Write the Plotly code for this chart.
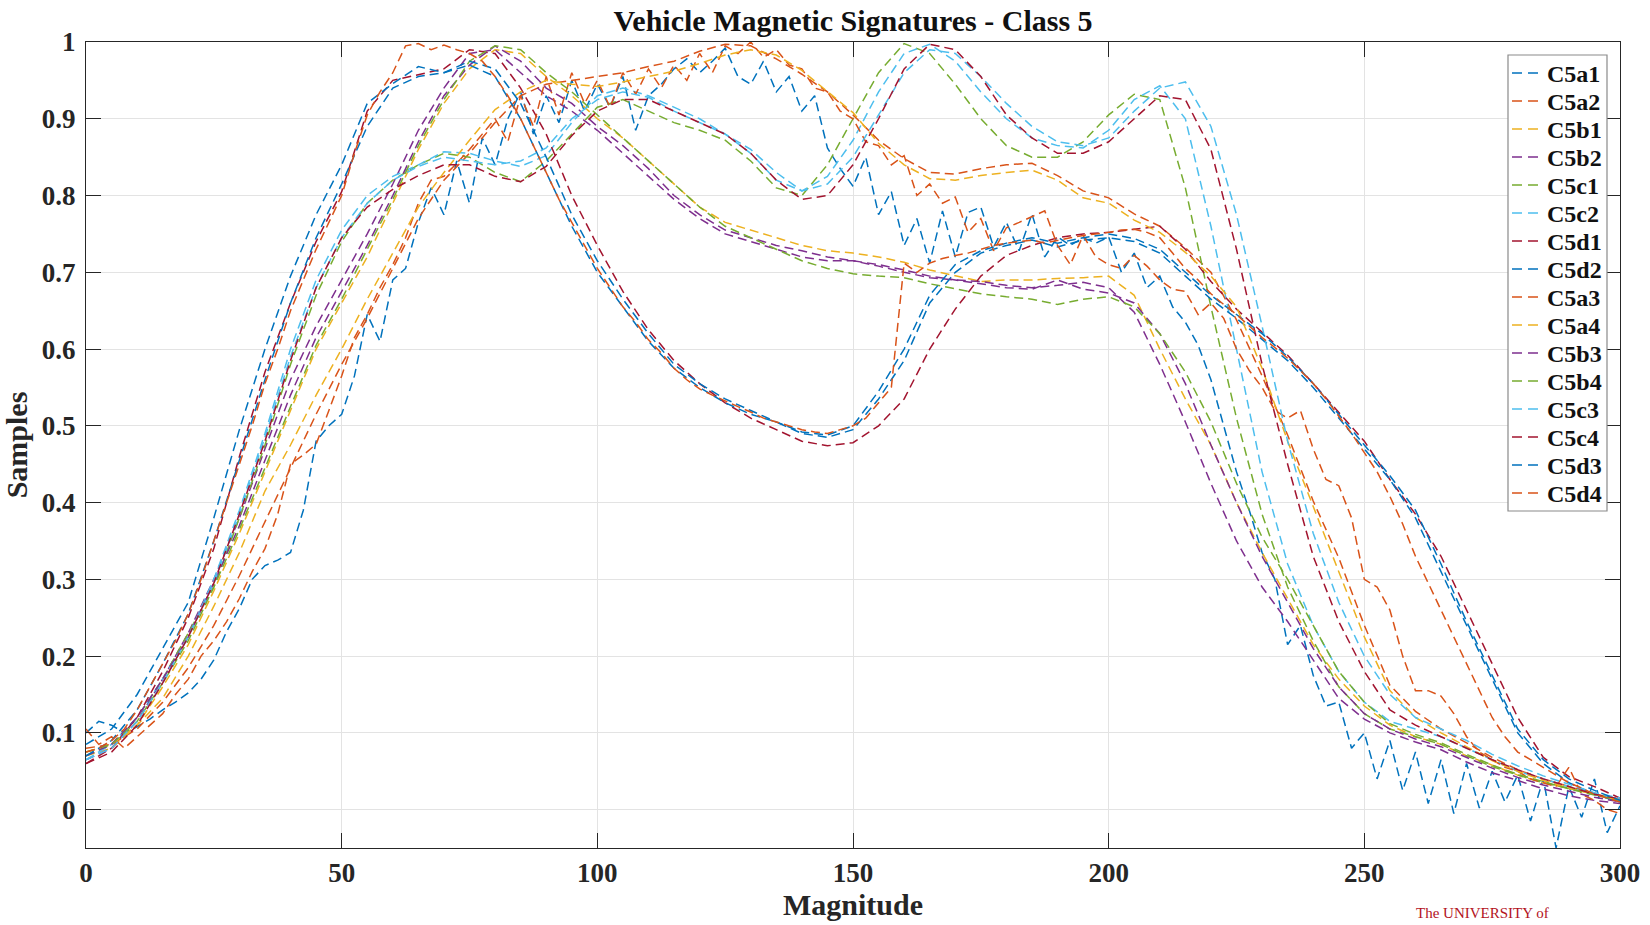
import plotly.graph_objects as go

# ---------------------------------------------------------------------------
# Sample positions
# ---------------------------------------------------------------------------
x_step5 = list(range(0, 301, 5))           # 61 samples
x_step2_5 = [i * 2.5 for i in range(121)]  # 121 samples (noisier records)

# ---------------------------------------------------------------------------
# Normalised magnetic signatures, class 5
# ---------------------------------------------------------------------------
c5a1 = [0.100, 0.115, 0.110, 0.100, 0.108, 0.118, 0.130, 0.140, 0.152, 0.170,
        0.195, 0.232, 0.262, 0.300, 0.318, 0.325, 0.335, 0.390, 0.480, 0.500,
        0.515, 0.565, 0.645, 0.610, 0.690, 0.705, 0.765, 0.810, 0.775, 0.845,
        0.790, 0.875, 0.840, 0.900, 0.935, 0.880, 0.930, 0.895, 0.950, 0.910,
        0.945, 0.915, 0.955, 0.885, 0.930, 0.945, 0.965, 0.978, 0.960, 0.975,
        0.992, 0.955, 0.945, 0.975, 0.935, 0.955, 0.910, 0.930, 0.862, 0.835,
        0.812, 0.850, 0.775, 0.805, 0.735, 0.770, 0.712, 0.780, 0.720, 0.778,
        0.785, 0.733, 0.765, 0.728, 0.776, 0.720, 0.746, 0.735, 0.745, 0.738,
        0.746, 0.700, 0.725, 0.680, 0.695, 0.655, 0.635, 0.605, 0.560, 0.500,
        0.440, 0.390, 0.335, 0.300, 0.215, 0.240, 0.175, 0.135, 0.140, 0.080,
        0.100, 0.040, 0.090, 0.025, 0.075, 0.008, 0.065, -0.005, 0.060, 0.002,
        0.050, 0.010, 0.045, -0.015, 0.040, -0.050, 0.030, -0.010, 0.040, -0.030,
        0.005]

c5a2 = [0.080, 0.085, 0.105, 0.140, 0.185, 0.240, 0.305, 0.375, 0.445, 0.515,
        0.580, 0.640, 0.705, 0.770, 0.820, 0.855, 0.895, 0.930, 0.945, 0.950,
        0.955, 0.960, 0.968, 0.975, 0.988, 0.997, 0.995, 0.978, 0.958, 0.935,
        0.905, 0.872, 0.848, 0.830, 0.828, 0.835, 0.840, 0.842, 0.826, 0.806,
        0.797, 0.776, 0.760, 0.732, 0.700, 0.638, 0.565, 0.488, 0.402, 0.328,
        0.240, 0.162, 0.128, 0.105, 0.087, 0.068, 0.052, 0.040, 0.030, 0.021,
        0.013]

c5a3 = [0.105, 0.085, 0.095, 0.080, 0.095, 0.110, 0.125, 0.150, 0.170, 0.200,
        0.220, 0.245, 0.275, 0.310, 0.340, 0.385, 0.450, 0.462, 0.476, 0.520,
        0.565, 0.615, 0.645, 0.680, 0.710, 0.745, 0.790, 0.820, 0.825, 0.842,
        0.860, 0.880, 0.900, 0.870, 0.930, 0.890, 0.955, 0.905, 0.960, 0.920,
        0.950, 0.915, 0.960, 0.932, 0.965, 0.940, 0.970, 0.950, 0.985, 0.960,
        0.995, 0.985, 1.000, 0.980, 0.990, 0.970, 0.965, 0.940, 0.935, 0.910,
        0.900, 0.870, 0.865, 0.840, 0.852, 0.800, 0.815, 0.790, 0.798, 0.752,
        0.770, 0.728, 0.758, 0.765, 0.772, 0.780, 0.735, 0.710, 0.748, 0.720,
        0.710, 0.705, 0.722, 0.708, 0.690, 0.678, 0.675, 0.645, 0.660, 0.640,
        0.600, 0.572, 0.550, 0.520, 0.510, 0.520, 0.470, 0.430, 0.422, 0.380,
        0.300, 0.290, 0.260, 0.200, 0.155, 0.155, 0.148, 0.125, 0.095, 0.075,
        0.065, 0.055, 0.050, 0.040, 0.035, 0.030, 0.055, 0.020, 0.012, 0.000,
        -0.005]

c5a4 = [0.075, 0.085, 0.110, 0.145, 0.200, 0.265, 0.335, 0.415, 0.475, 0.540,
        0.600, 0.665, 0.725, 0.785, 0.830, 0.872, 0.912, 0.935, 0.950, 0.945,
        0.942, 0.948, 0.955, 0.962, 0.972, 0.983, 0.990, 0.983, 0.963, 0.935,
        0.908, 0.868, 0.840, 0.822, 0.820, 0.826, 0.830, 0.833, 0.820, 0.797,
        0.790, 0.768, 0.752, 0.726, 0.695, 0.655, 0.575, 0.480, 0.395, 0.310,
        0.225, 0.155, 0.120, 0.100, 0.082, 0.064, 0.050, 0.038, 0.028, 0.020,
        0.012]

c5b1 = [0.070, 0.080, 0.110, 0.160, 0.215, 0.285, 0.360, 0.440, 0.520, 0.600,
        0.660, 0.720, 0.790, 0.860, 0.920, 0.965, 0.990, 0.985, 0.955, 0.930,
        0.900, 0.875, 0.845, 0.815, 0.785, 0.765, 0.755, 0.745, 0.735, 0.728,
        0.725, 0.720, 0.713, 0.703, 0.695, 0.688, 0.690, 0.690, 0.692, 0.693,
        0.695, 0.670, 0.600, 0.535, 0.475, 0.400, 0.335, 0.275, 0.215, 0.170,
        0.135, 0.110, 0.095, 0.085, 0.070, 0.058, 0.045, 0.035, 0.027, 0.020,
        0.013]

c5b2 = [0.065, 0.080, 0.115, 0.170, 0.230, 0.300, 0.380, 0.470, 0.560, 0.630,
        0.690, 0.750, 0.815, 0.885, 0.940, 0.985, 0.990, 0.960, 0.930, 0.910,
        0.885, 0.855, 0.825, 0.795, 0.770, 0.750, 0.740, 0.730, 0.720, 0.715,
        0.715, 0.708, 0.700, 0.693, 0.690, 0.688, 0.683, 0.680, 0.683, 0.687,
        0.680, 0.648, 0.580, 0.505, 0.425, 0.350, 0.290, 0.245, 0.195, 0.145,
        0.118, 0.100, 0.088, 0.078, 0.062, 0.048, 0.038, 0.027, 0.018, 0.012,
        0.008]

c5b3 = [0.070, 0.085, 0.120, 0.170, 0.225, 0.295, 0.370, 0.455, 0.540, 0.615,
        0.675, 0.735, 0.800, 0.870, 0.930, 0.970, 0.995, 0.975, 0.940, 0.920,
        0.890, 0.865, 0.835, 0.800, 0.775, 0.755, 0.745, 0.735, 0.728, 0.720,
        0.715, 0.710, 0.703, 0.695, 0.690, 0.685, 0.680, 0.678, 0.690, 0.678,
        0.673, 0.660, 0.620, 0.555, 0.475, 0.400, 0.330, 0.270, 0.210, 0.160,
        0.125, 0.105, 0.092, 0.082, 0.068, 0.054, 0.042, 0.032, 0.024, 0.016,
        0.010]

c5b4 = [0.075, 0.085, 0.115, 0.165, 0.220, 0.290, 0.365, 0.445, 0.525, 0.605,
        0.665, 0.730, 0.795, 0.865, 0.925, 0.975, 0.995, 0.990, 0.960, 0.935,
        0.905, 0.875, 0.845, 0.815, 0.785, 0.760, 0.745, 0.730, 0.715, 0.705,
        0.698, 0.695, 0.693, 0.685, 0.678, 0.672, 0.668, 0.665, 0.658, 0.665,
        0.668, 0.655, 0.620, 0.570, 0.505, 0.425, 0.355, 0.300, 0.240, 0.180,
        0.140, 0.112, 0.098, 0.087, 0.072, 0.058, 0.046, 0.036, 0.027, 0.019,
        0.012]

c5c1 = [0.070, 0.085, 0.120, 0.170, 0.230, 0.290, 0.380, 0.475, 0.580, 0.670,
        0.740, 0.790, 0.820, 0.840, 0.855, 0.850, 0.830, 0.818, 0.845, 0.880,
        0.915, 0.925, 0.910, 0.895, 0.885, 0.872, 0.845, 0.810, 0.800, 0.840,
        0.900, 0.960, 0.998, 0.985, 0.945, 0.900, 0.865, 0.850, 0.850, 0.870,
        0.905, 0.932, 0.925, 0.810, 0.655, 0.510, 0.385, 0.290, 0.220, 0.160,
        0.125, 0.105, 0.095, 0.085, 0.070, 0.056, 0.045, 0.035, 0.028, 0.020,
        0.012]

c5c2 = [0.065, 0.085, 0.120, 0.170, 0.225, 0.300, 0.390, 0.490, 0.600, 0.690,
        0.755, 0.800, 0.825, 0.840, 0.857, 0.855, 0.845, 0.838, 0.852, 0.895,
        0.930, 0.940, 0.930, 0.915, 0.900, 0.880, 0.855, 0.820, 0.806, 0.825,
        0.872, 0.935, 0.985, 0.997, 0.975, 0.935, 0.900, 0.875, 0.865, 0.862,
        0.885, 0.925, 0.943, 0.900, 0.760, 0.600, 0.440, 0.320, 0.240, 0.180,
        0.140, 0.115, 0.105, 0.095, 0.080, 0.065, 0.050, 0.040, 0.030, 0.020,
        0.013]

c5c3 = [0.065, 0.080, 0.115, 0.165, 0.225, 0.295, 0.385, 0.485, 0.590, 0.680,
        0.745, 0.790, 0.820, 0.838, 0.850, 0.845, 0.840, 0.845, 0.862, 0.900,
        0.925, 0.935, 0.928, 0.910, 0.895, 0.880, 0.860, 0.830, 0.806, 0.815,
        0.850, 0.905, 0.960, 0.990, 0.985, 0.955, 0.920, 0.890, 0.870, 0.865,
        0.875, 0.910, 0.940, 0.948, 0.890, 0.775, 0.630, 0.480, 0.360, 0.270,
        0.200, 0.150, 0.120, 0.105, 0.090, 0.072, 0.057, 0.044, 0.033, 0.022,
        0.015]

c5c4 = [0.060, 0.075, 0.110, 0.165, 0.225, 0.295, 0.385, 0.480, 0.585, 0.680,
        0.745, 0.785, 0.808, 0.826, 0.840, 0.840, 0.825, 0.818, 0.838, 0.878,
        0.910, 0.925, 0.925, 0.910, 0.895, 0.880, 0.855, 0.820, 0.795, 0.800,
        0.840, 0.900, 0.965, 0.997, 0.990, 0.955, 0.905, 0.875, 0.855, 0.855,
        0.870, 0.900, 0.930, 0.925, 0.860, 0.730, 0.580, 0.450, 0.330, 0.245,
        0.180, 0.130, 0.110, 0.095, 0.080, 0.065, 0.052, 0.040, 0.030, 0.020,
        0.014]

c5d1 = [0.060, 0.080, 0.120, 0.180, 0.250, 0.340, 0.460, 0.570, 0.660, 0.740,
        0.805, 0.910, 0.950, 0.958, 0.965, 0.990, 0.985, 0.940, 0.880, 0.800,
        0.735, 0.675, 0.625, 0.585, 0.555, 0.530, 0.510, 0.495, 0.480, 0.474,
        0.478, 0.500, 0.535, 0.600, 0.652, 0.695, 0.722, 0.735, 0.745, 0.750,
        0.752, 0.756, 0.760, 0.730, 0.688, 0.652, 0.622, 0.592, 0.555, 0.518,
        0.480, 0.430, 0.385, 0.330, 0.260, 0.190, 0.120, 0.068, 0.043, 0.030,
        0.015]

c5d2 = [0.085, 0.105, 0.150, 0.210, 0.270, 0.380, 0.495, 0.600, 0.695, 0.775,
        0.840, 0.920, 0.946, 0.968, 0.960, 0.970, 0.955, 0.900, 0.830, 0.760,
        0.700, 0.655, 0.610, 0.575, 0.550, 0.530, 0.515, 0.505, 0.490, 0.485,
        0.495, 0.535, 0.585, 0.660, 0.700, 0.725, 0.735, 0.742, 0.733, 0.742,
        0.745, 0.740, 0.725, 0.695, 0.665, 0.640, 0.613, 0.585, 0.550, 0.510,
        0.470, 0.430, 0.380, 0.310, 0.240, 0.170, 0.100, 0.060, 0.035, 0.020,
        0.010]

c5d3 = [0.070, 0.090, 0.130, 0.190, 0.255, 0.350, 0.455, 0.560, 0.660, 0.745,
        0.815, 0.890, 0.940, 0.955, 0.960, 0.975, 0.965, 0.920, 0.850, 0.775,
        0.715, 0.665, 0.620, 0.580, 0.555, 0.535, 0.520, 0.505, 0.492, 0.488,
        0.500, 0.545, 0.600, 0.670, 0.710, 0.728, 0.738, 0.745, 0.738, 0.745,
        0.750, 0.744, 0.730, 0.700, 0.670, 0.645, 0.620, 0.590, 0.555, 0.515,
        0.475, 0.435, 0.390, 0.320, 0.245, 0.175, 0.105, 0.065, 0.040, 0.025,
        0.012]

c5d4 = [0.075, 0.080, 0.090, 0.105, 0.130, 0.160, 0.190, 0.220, 0.255, 0.300,
        0.350, 0.400, 0.450, 0.500, 0.555, 0.600, 0.650, 0.690, 0.730, 0.765,
        0.800, 0.855, 0.905, 0.935, 0.960, 0.995, 0.998, 0.990, 0.996, 0.990,
        0.985, 0.975, 0.955, 0.930, 0.900, 0.865, 0.830, 0.795, 0.765, 0.735,
        0.705, 0.680, 0.655, 0.635, 0.612, 0.595, 0.575, 0.560, 0.548, 0.540,
        0.532, 0.525, 0.518, 0.510, 0.505, 0.500, 0.495, 0.492, 0.490, 0.495,
        0.500, 0.510, 0.530, 0.550, 0.712, 0.700, 0.712, 0.718, 0.722, 0.725,
        0.730, 0.735, 0.738, 0.740, 0.742, 0.738, 0.742, 0.745, 0.748, 0.750,
        0.752, 0.755, 0.756, 0.752, 0.745, 0.725, 0.705, 0.690, 0.672, 0.658,
        0.645, 0.630, 0.615, 0.602, 0.588, 0.572, 0.555, 0.535, 0.512, 0.490,
        0.465, 0.440, 0.408, 0.372, 0.330, 0.295, 0.260, 0.225, 0.190, 0.155,
        0.120, 0.095, 0.075, 0.065, 0.055, 0.045, 0.035, 0.028, 0.020, 0.015,
        0.010]

# Plotting order (also the legend order) and the MATLAB default colour cycle
series_names = ["C5a1", "C5a2", "C5b1", "C5b2", "C5c1", "C5c2", "C5d1", "C5d2",
                "C5a3", "C5a4", "C5b3", "C5b4", "C5c3", "C5c4", "C5d3", "C5d4"]
series_x = [x_step2_5, x_step5, x_step5, x_step5, x_step5, x_step5, x_step5, x_step5,
            x_step2_5, x_step5, x_step5, x_step5, x_step5, x_step5, x_step5, x_step2_5]
series_y = [c5a1, c5a2, c5b1, c5b2, c5c1, c5c2, c5d1, c5d2,
            c5a3, c5a4, c5b3, c5b4, c5c3, c5c4, c5d3, c5d4]
color_cycle = ["#0072BD", "#D95319", "#EDB120", "#7E2F8E",
               "#77AC30", "#4DBEEE", "#A2142F"]

x_ticks = [0, 50, 100, 150, 200, 250, 300]
y_ticks = [0, 0.1, 0.2, 0.3, 0.4, 0.5, 0.6, 0.7, 0.8, 0.9, 1]
y_tick_text = ["0", "0.1", "0.2", "0.3", "0.4", "0.5", "0.6", "0.7", "0.8", "0.9", "1"]

# ---------------------------------------------------------------------------
# Figure
# ---------------------------------------------------------------------------
SERIF = "Liberation Serif, Times New Roman, serif"
INK = "#262626"
W, H = 1650, 925
M_L, M_R, M_T, M_B = 86, 30, 42, 77
PLOT_W, PLOT_H = W - M_L - M_R, H - M_T - M_B


def paper_x(px):
    return (px - M_L) / PLOT_W


def paper_y(py):
    return (H - M_B - py) / PLOT_H


fig = go.Figure()
for i, (name, xs, ys) in enumerate(zip(series_names, series_x, series_y)):
    fig.add_trace(go.Scatter(
        x=xs, y=ys, mode="lines", name=name, showlegend=False,
        line=dict(color=color_cycle[i % len(color_cycle)], width=1.5, dash="9px,5px"),
    ))

axis_common = dict(
    showline=True, linecolor=INK, linewidth=1.3, mirror="ticks",
    ticks="inside", ticklen=15, tickwidth=1.3, tickcolor=INK,
    showgrid=True, gridcolor="#e3e3e3", gridwidth=1, zeroline=False,
    tickfont=dict(family=SERIF, size=27, color=INK, weight="bold"),
)

fig.update_xaxes(range=[0, 300], tickvals=x_ticks,
                 title=dict(text="Magnitude", standoff=6,
                            font=dict(family=SERIF, size=30, color=INK, weight="bold")),
                 **axis_common)
fig.update_yaxes(range=[-0.05, 1], tickvals=y_ticks, ticktext=y_tick_text,
                 ticklabelstandoff=4,
                 title=dict(text="Samples", standoff=8,
                            font=dict(family=SERIF, size=30, color=INK, weight="bold")),
                 **axis_common)

# Legend panel drawn inside the axes
shapes = []
annotations = []
box_l, box_r, box_t, box_b = 1508, 1607, 55, 511
shapes.append(dict(type="rect", xref="paper", yref="paper", layer="above",
                   x0=paper_x(box_l), x1=paper_x(box_r),
                   y0=paper_y(box_b), y1=paper_y(box_t),
                   fillcolor="white", line=dict(color="#8a8a8a", width=1.2)))
row_h = (box_b - box_t - 36) / (len(series_names) - 1)
for i, name in enumerate(series_names):
    cy = box_t + 18 + i * row_h
    shapes.append(dict(type="line", xref="paper", yref="paper", layer="above",
                       x0=paper_x(box_l + 4), x1=paper_x(box_l + 31),
                       y0=paper_y(cy), y1=paper_y(cy),
                       line=dict(color=color_cycle[i % len(color_cycle)], width=1.5,
                                 dash="10px,6px")))
    annotations.append(dict(xref="paper", yref="paper", x=paper_x(box_l + 37),
                            y=paper_y(cy + 1), xanchor="left", yanchor="middle",
                            text=name, showarrow=False,
                            font=dict(family=SERIF, size=24, color="#111111", weight="bold")))

# Institutional mark in the lower right corner
annotations.append(dict(xref="paper", yref="paper", x=paper_x(1414), y=paper_y(923),
                        xanchor="left", yanchor="bottom", showarrow=False,
                        text="The UNIVERSITY of",
                        font=dict(family=SERIF, size=15, color="#b3121c")))

fig.update_layout(
    width=W, height=H,
    margin=dict(l=M_L, r=M_R, t=M_T, b=M_B, autoexpand=False),
    paper_bgcolor="white", plot_bgcolor="white",
    title=dict(text="Vehicle Magnetic Signatures - Class 5",
               x=0.5, xref="paper", xanchor="center",
               y=1 - 20 / H, yref="container", yanchor="middle",
               font=dict(family=SERIF, size=30, color="#111111", weight="bold")),
    shapes=shapes,
    annotations=annotations,
    showlegend=False,
)

fig.write_html("out.html")
